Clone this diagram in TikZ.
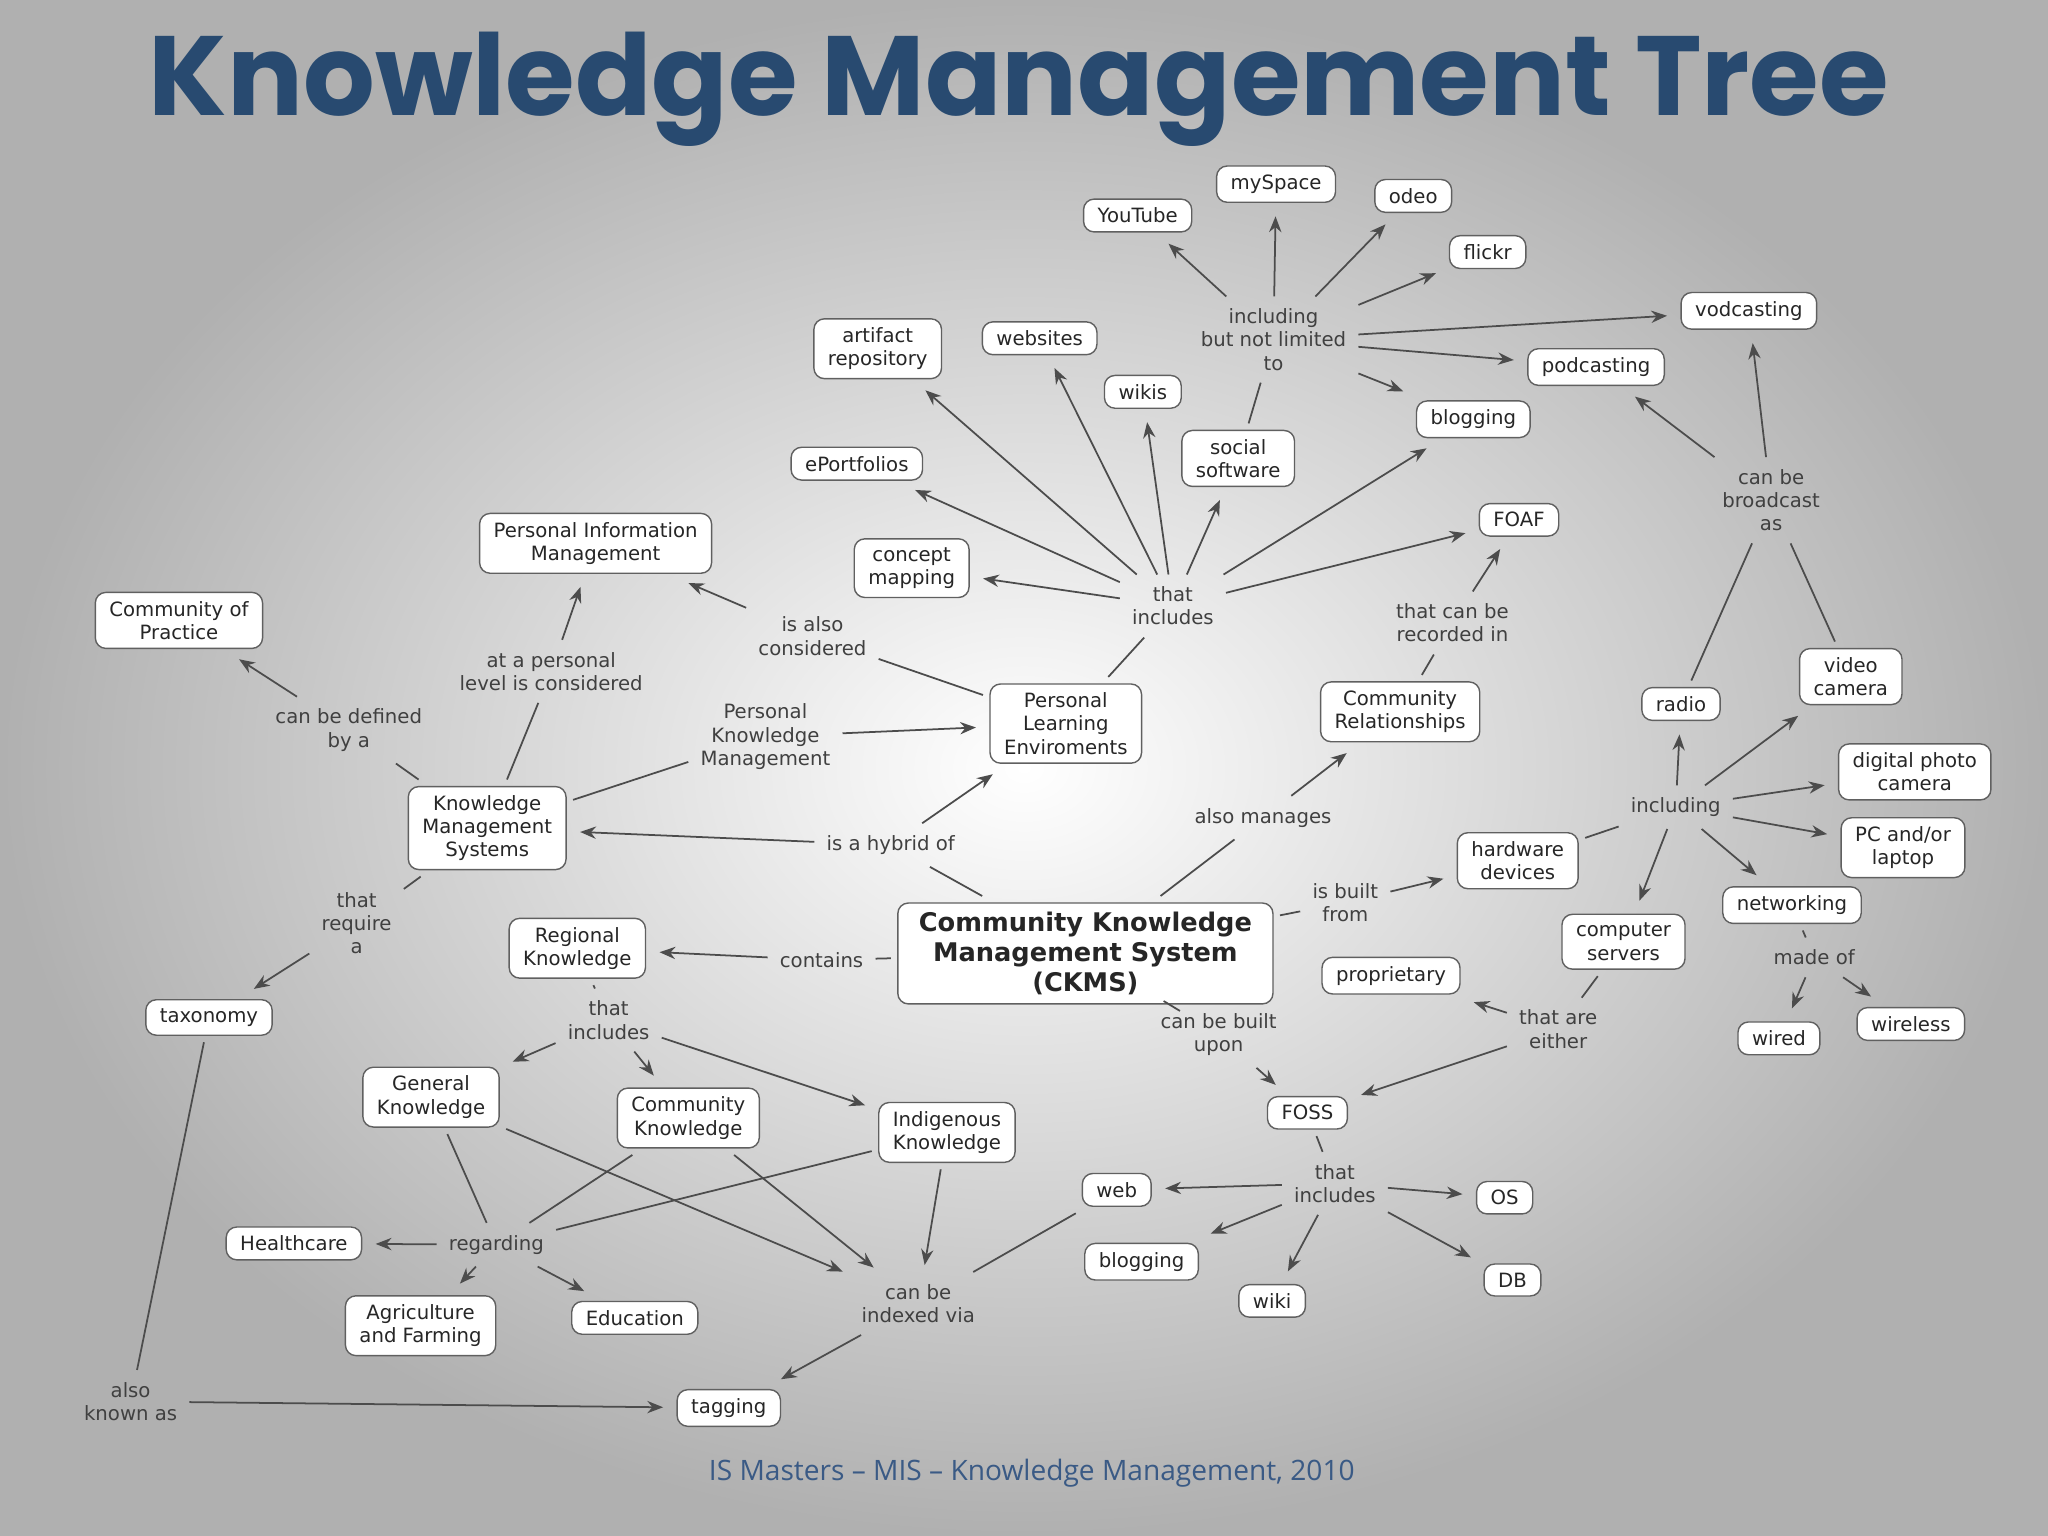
\documentclass[tikz,border=0pt]{standalone}
\usepackage{fontspec}
\setmainfont{DejaVu Sans}
\newfontfamily\titlefont{Poppins}
\newfontfamily\footfont{Open Sans}
\usetikzlibrary{arrows.meta}
\definecolor{titleblue}{HTML}{284A70}
\definecolor{footblue}{HTML}{3A5A85}
\tikzset{
 bx/.style={draw=gray!75!black, rounded corners=3pt, fill=white, inner xsep=4pt, inner ysep=2.5pt, align=center, font=\fontsize{5.6}{6.6}\selectfont, text=black!85, outer sep=2pt},
 lb/.style={align=center, font=\fontsize{5.6}{6.6}\selectfont, text=black!75, inner sep=1.5pt, outer sep=2pt},
 ln/.style={draw=black!70, line width=0.5pt},
 ar/.style={ln, -{Stealth[length=4.5pt,width=3.5pt]}, shorten >=2pt}
}
\begin{document}
\begin{tikzpicture}[x=0.013061cm,y=-0.013061cm]
\shade[inner color=white, outer color=gray!62] (0,0) rectangle (1568,1176);
\useasboundingbox (0,0) rectangle (1568,1176);
\node[text=titleblue] (title) at (780,68) {\resizebox{17.4cm}{!}{\titlefont\bfseries Knowledge Management Tree}};
\node[text=footblue] (foot) at (790,1128) {\footfont\fontsize{8}{10}\selectfont IS Masters – MIS – Knowledge Management, 2010};
% boxes
\node[bx] (youtube) at (871,165) {YouTube};
\node[bx] (myspace) at (977,141) {mySpace};
\node[bx] (odeo) at (1082,150) {odeo};
\node[bx] (flickr) at (1139,193) {flickr};
\node[bx] (vod) at (1339,238) {vodcasting};
\node[bx] (pod) at (1222,281) {podcasting};
\node[bx] (blog1) at (1128,321) {blogging};
\node[bx] (artifact) at (672,267) {artifact\\repository};
\node[bx] (websites) at (796,259) {websites};
\node[bx] (wikis) at (875,300) {wikis};
\node[bx] (social) at (948,351) {social\\software};
\node[bx] (eport) at (656,355) {ePortfolios};
\node[bx] (concept) at (698,435) {concept\\mapping};
\node[bx] (pim) at (456,416) {Personal Information\\Management};
\node[bx] (cop) at (137,475) {Community of\\Practice};
\node[bx] (foaf) at (1163,398) {FOAF};
\node[bx] (ple) at (816,554) {Personal\\Learning\\Enviroments};
\node[bx] (commrel) at (1072,545) {Community\\Relationships};
\node[bx] (radio) at (1287,539) {radio};
\node[bx] (video) at (1417,518) {video\\camera};
\node[bx] (photo) at (1466,591) {digital photo\\camera};
\node[bx] (pc) at (1457,649) {PC and/or\\laptop};
\node[bx] (kms) at (373,634) {Knowledge\\Management\\Systems};
\node[bx] (hw) at (1162,659) {hardware\\devices};
\node[bx] (net) at (1372,693) {networking};
\node[bx] (servers) at (1243,721) {computer\\servers};
\node[bx, font=\fontsize{7.3}{8.6}\selectfont\bfseries, inner xsep=6pt] (ckms) at (831,730) {Community Knowledge\\Management System\\(CKMS)};
\node[bx] (regional) at (442,726) {Regional\\Knowledge};
\node[bx] (prop) at (1065,747) {proprietary};
\node[bx] (wired) at (1362,795) {wired};
\node[bx] (wireless) at (1463,784) {wireless};
\node[bx] (tax) at (160,779) {taxonomy};
\node[bx] (general) at (330,840) {General\\Knowledge};
\node[bx] (commk) at (527,856) {Community\\Knowledge};
\node[bx] (indig) at (725,867) {Indigenous\\Knowledge};
\node[bx] (foss) at (1001,852) {FOSS};
\node[bx] (web) at (855,911) {web};
\node[bx] (os) at (1152,917) {OS};
\node[bx] (health) at (225,952) {Healthcare};
\node[bx] (blog2) at (874,966) {blogging};
\node[bx] (wiki) at (974,996) {wiki};
\node[bx] (db) at (1158,980) {DB};
\node[bx] (agri) at (322,1015) {Agriculture\\and Farming};
\node[bx] (edu) at (486,1009) {Education};
\node[bx] (tag) at (558,1078) {tagging};
% labels
\node[lb] (incl) at (975,260) {including\\but not limited\\to};
\node[lb] (ti1) at (898,464) {that\\includes};
\node[lb] (broad) at (1356,383) {can be\\broadcast\\as};
\node[lb] (rec) at (1112,477) {that can be\\recorded in};
\node[lb] (alsocons) at (622,487) {is also\\considered};
\node[lb] (personal) at (422,514) {at a personal\\level is considered};
\node[lb] (defined) at (267,559) {can be defined\\by a};
\node[lb] (pkm) at (586,564) {Personal\\Knowledge\\Management};
\node[lb] (incl2) at (1283,618) {including};
\node[lb] (manages) at (967,626) {also manages};
\node[lb] (hybrid) at (682,647) {is a hybrid of};
\node[lb] (require) at (273,707) {that\\require\\a};
\node[lb] (built) at (1030,691) {is built\\from};
\node[lb] (contains) at (629,735) {contains};
\node[lb] (madeof) at (1389,733) {made of};
\node[lb] (ti2) at (466,781) {that\\includes};
\node[lb] (upon) at (933,792) {can be built\\upon};
\node[lb] (either) at (1193,788) {that are\\either};
\node[lb] (ti3) at (1022,906) {that\\includes};
\node[lb] (regarding) at (380,953) {regarding};
\node[lb] (indexed) at (703,998) {can be\\indexed via};
\node[lb] (aka) at (100,1073) {also\\known as};
% connectors
\foreach \t in {youtube,myspace,odeo,flickr,vod,pod,blog1} \draw[ar] (incl) -- (\t);
\draw[ln] (social) -- (incl);
\foreach \t in {artifact,websites,wikis,social,eport,concept,blog1,foaf} \draw[ar] (ti1) -- (\t);
\draw[ln] (ple) -- (ti1);
\draw[ar] (broad) -- (vod); \draw[ar] (broad) -- (pod);
\draw[ln] (radio) -- (broad); \draw[ln] (video) -- (broad);
\draw[ln] (commrel) -- (rec); \draw[ar] (rec) -- (foaf);
\draw[ln] (ple) -- (alsocons); \draw[ar] (alsocons) -- (pim);
\draw[ln] (kms) -- (personal); \draw[ar] (personal) -- (pim);
\draw[ln] (kms) -- (defined); \draw[ar] (defined) -- (cop);
\draw[ln] (kms) -- (pkm); \draw[ar] (pkm) -- (ple);
\draw[ln] (ckms) -- (hybrid); \draw[ar] (hybrid) -- (kms); \draw[ar] (hybrid) -- (ple);
\draw[ln] (ckms) -- (manages); \draw[ar] (manages) -- (commrel);
\draw[ln] (kms) -- (require); \draw[ar] (require) -- (tax);
\draw[ln] (ckms) -- (built); \draw[ar] (built) -- (hw);
\draw[ln] (hw) -- (incl2);
\foreach \t in {radio,video,photo,pc,net,servers} \draw[ar] (incl2) -- (\t);
\draw[ln] (net) -- (madeof); \draw[ar] (madeof) -- (wired); \draw[ar] (madeof) -- (wireless);
\draw[ln] (ckms) -- (contains); \draw[ar] (contains) -- (regional);
\draw[ln] (regional) -- (ti2);
\foreach \t in {general,commk,indig} \draw[ar] (ti2) -- (\t);
\draw[ln] (ckms) -- (upon); \draw[ar] (upon) -- (foss);
\draw[ln] (servers) -- (either); \draw[ar] (either) -- (prop); \draw[ar] (either) -- (foss);
\draw[ln] (foss) -- (ti3);
\foreach \t in {web,os,blog2,wiki,db} \draw[ar] (ti3) -- (\t);
\foreach \s in {general,commk,indig} \draw[ln] (\s) -- (regarding);
\foreach \t in {health,agri,edu} \draw[ar] (regarding) -- (\t);
\foreach \s in {general,commk,indig} \draw[ar] (\s) -- (indexed);
\draw[ln] (web) -- (indexed);
\draw[ar] (indexed) -- (tag);
\draw[ln] (tax) -- (aka); \draw[ar] (aka) -- (tag);
\end{tikzpicture}
\end{document}
